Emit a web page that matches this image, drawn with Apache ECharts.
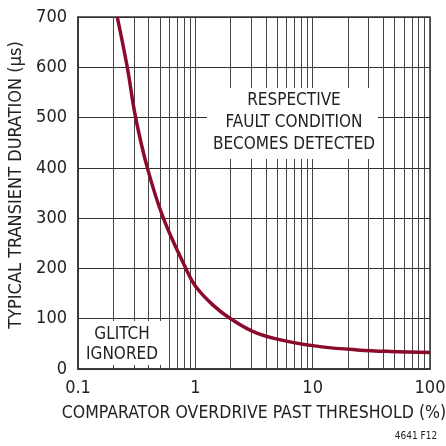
<!DOCTYPE html>
<html>
<head>
<meta charset="utf-8">
<script src="https://cdn.jsdelivr.net/npm/echarts@6/dist/echarts.min.js"></script>
<style>
html,body{margin:0;padding:0;background:#fff;}
#c{width:446px;height:446px;}
</style>
</head>
<body>
<div id="c"></div>
<script>
// Data
var curveX = [0.216, 0.263, 0.31, 0.39, 0.534, 0.83, 1, 1.4, 2, 3.3, 6.4, 12, 24, 45, 100];
var curveY = [700, 600, 500, 400, 300, 200, 165, 128, 100, 72, 54, 44, 38, 35, 33];
var minorGridX = [0.2,0.3,0.4,0.5,0.6,0.7,0.8,0.9, 2,3,4,5,6,7,8,9, 20,30,40,50,60,70,80,90];
var xTickLabels = ['0.1', '1', '10', '100'];
var yTicks = [0, 100, 200, 300, 400, 500, 600, 700];

var FONT = '"Liberation Sans Narrow", "DejaVu Sans Condensed", "Roboto Condensed", Arial, sans-serif';
var chart = echarts.init(document.getElementById('c'));
var curve = curveX.map(function (x, i) { return [x, curveY[i]]; });

chart.setOption({
  animation: false,
  backgroundColor: '#fff',
  grid: { left: 78, right: 16, top: 17, bottom: 77, show: true, borderColor: '#333', borderWidth: 1.5,
          containLabel: false, outerBoundsMode: 'none' },
  xAxis: {
    type: 'log', logBase: 10, min: 0.1, max: 100,
    name: 'COMPARATOR OVERDRIVE PAST THRESHOLD (%)',
    nameLocation: 'middle', nameGap: 35,
    nameTextStyle: { fontFamily: FONT, fontSize: 17.5, color: '#222' },
    axisLine: { show: true, lineStyle: { color: '#333', width: 1.5 } },
    axisTick: { show: false },
    axisLabel: {
      fontFamily: FONT, fontSize: 18, color: '#222', margin: 10,
      formatter: function (v) {
        var idx = Math.round(Math.log10(v) + 1);
        return xTickLabels[idx] !== undefined ? xTickLabels[idx] : '';
      }
    },
    splitLine: { show: true, lineStyle: { color: '#444', width: 1 } }
  },
  yAxis: {
    type: 'value', min: 0, max: 700, interval: 100,
    name: 'TYPICAL TRANSIENT DURATION (µs)',
    nameLocation: 'middle', nameGap: 50,
    nameTextStyle: { fontFamily: FONT, fontSize: 18, color: '#222', padding: [0, 0, 0, 16] },
    axisLine: { show: true, lineStyle: { color: '#333', width: 1.5 } },
    axisTick: { show: false },
    axisLabel: {
      fontFamily: FONT, fontSize: 18, color: '#222', margin: 11,
      formatter: function (v) { return yTicks.indexOf(v) >= 0 ? String(v) : ''; }
    },
    splitLine: { show: true, lineStyle: { color: '#333', width: 1 } }
  },
  series: [
    {
      type: 'line',
      data: curve,
      smooth: 0.4,
      showSymbol: false,
      lineStyle: { color: '#8c0a2c', width: 3.5 },
      z: 5,
      markLine: {
        silent: true,
        symbol: ['none', 'none'],
        label: { show: false },
        lineStyle: { color: '#444', width: 1, type: 'solid' },
        data: minorGridX.map(function (v) { return { xAxis: v }; }),
        z: 1
      }
    }
  ],
  graphic: [
    { type: 'rect', z: 10, shape: { x: 207, y: 88, width: 171, height: 71 }, style: { fill: '#fff' } },
    { type: 'text', z: 11, style: { x: 294, y: 101, text: 'RESPECTIVE', font: '17px ' + FONT, fill: '#222', textAlign: 'center', textVerticalAlign: 'middle' } },
    { type: 'text', z: 11, style: { x: 294, y: 123, text: 'FAULT CONDITION', font: '17px ' + FONT, fill: '#222', textAlign: 'center', textVerticalAlign: 'middle' } },
    { type: 'text', z: 11, style: { x: 294, y: 145, text: 'BECOMES DETECTED', font: '17px ' + FONT, fill: '#222', textAlign: 'center', textVerticalAlign: 'middle' } },
    { type: 'rect', z: 10, shape: { x: 79, y: 321, width: 85, height: 44 }, style: { fill: '#fff' } },
    { type: 'text', z: 11, style: { x: 122, y: 335, text: 'GLITCH', font: '17px ' + FONT, fill: '#222', textAlign: 'center', textVerticalAlign: 'middle' } },
    { type: 'text', z: 11, style: { x: 122, y: 355, text: 'IGNORED', font: '17px ' + FONT, fill: '#222', textAlign: 'center', textVerticalAlign: 'middle' } },
    { type: 'text', z: 11, style: { x: 416, y: 436, text: '4641 F12', font: '10px ' + FONT, fill: '#222', textAlign: 'center', textVerticalAlign: 'middle' } }
  ]
});
</script>
</body>
</html>
